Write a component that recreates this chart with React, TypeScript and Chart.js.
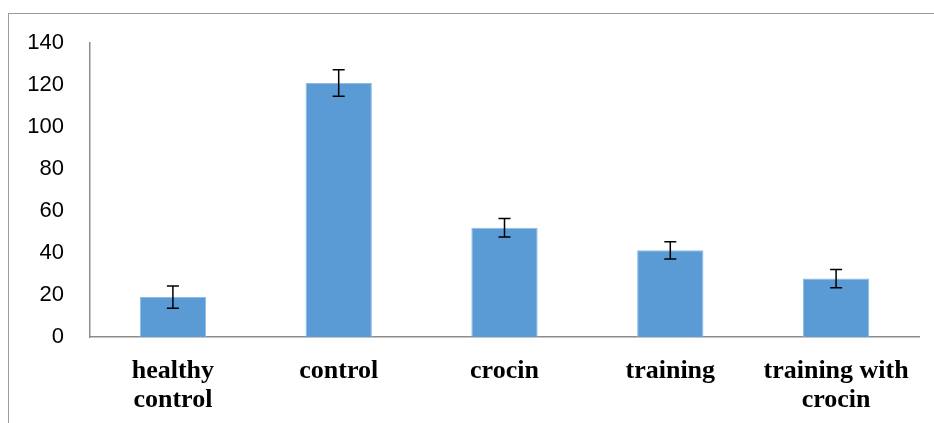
import React, { useEffect, useRef } from "react";
import { Chart, registerables } from "chart.js";

Chart.register(...registerables);

const categories: (string | string[])[] = [
  ["healthy", "control"],
  "control",
  "crocin",
  "training",
  ["training with", "crocin"],
];
const means: number[] = [19, 121, 52, 41.3, 27.8];
const errors: number[] = [5.3, 6.3, 4.4, 4.1, 4.3];
const yTicks: number[] = [0, 20, 40, 60, 80, 100, 120, 140];

const errorBarPlugin = {
  id: "errorBars",
  afterDatasetsDraw(chart: any) {
    const { ctx } = chart;
    const yScale = chart.scales.y;
    const meta = chart.getDatasetMeta(0);
    ctx.save();
    ctx.strokeStyle = "#000";
    ctx.lineWidth = 1.5;
    meta.data.forEach((bar: any, i: number) => {
      const x = bar.x;
      const yTop = yScale.getPixelForValue(means[i] + errors[i]);
      const yBot = yScale.getPixelForValue(means[i] - errors[i]);
      const cap = 6;
      ctx.beginPath();
      ctx.moveTo(x, yTop);
      ctx.lineTo(x, yBot);
      ctx.moveTo(x - cap, yTop);
      ctx.lineTo(x + cap, yTop);
      ctx.moveTo(x - cap, yBot);
      ctx.lineTo(x + cap, yBot);
      ctx.stroke();
    });
    ctx.restore();
  },
};

export default function App() {
  const canvasRef = useRef<HTMLCanvasElement | null>(null);

  useEffect(() => {
    if (!canvasRef.current) return;
    const chart = new Chart(canvasRef.current, {
      type: "bar",
      data: {
        labels: categories,
        datasets: [
          {
            data: means,
            backgroundColor: "#5B9BD5",
            borderColor: "#8DBCE6",
            borderWidth: 1,
            categoryPercentage: 1,
            barPercentage: 0.4,
          },
        ],
      },
      options: {
        animation: false,
        responsive: false,
        maintainAspectRatio: false,
        devicePixelRatio: 1,
        layout: { padding: { top: 43, right: 15, bottom: 0, left: 0 } },
        plugins: {
          legend: { display: false },
          tooltip: { enabled: false },
          title: { display: false },
        },
        scales: {
          x: {
            grid: { display: false, drawTicks: false },
            border: { display: true, color: "#8c8c8c", width: 1.5 },
            ticks: {
              color: "#000",
              padding: 20,
              maxRotation: 0,
              autoSkip: false,
              font: {
                family: "'Liberation Serif', 'Times New Roman', serif",
                size: 26,
                weight: "bold",
                lineHeight: 1.115,
              },
            },
            afterFit(scale: any) {
              scale.height = 86;
            },
          },
          y: {
            min: 0,
            max: 140,
            afterBuildTicks(scale: any) {
              scale.ticks = yTicks.map((v) => ({ value: v }));
            },
            grid: { display: false, drawTicks: false },
            border: { display: true, color: "#8c8c8c", width: 1.5 },
            ticks: {
              color: "#000",
              padding: 26,
              font: {
                family: "'Liberation Sans', Arial, sans-serif",
                size: 22,
              },
            },
            afterFit(scale: any) {
              scale.width = 90;
            },
          },
        },
      },
      plugins: [errorBarPlugin],
    });
    return () => chart.destroy();
  }, []);

  return (
    <div
      style={{
        position: "fixed",
        left: 0,
        top: 0,
        width: 934,
        height: 423,
        overflow: "hidden",
        background: "#fff",
      }}
    >
      <div
        style={{
          position: "absolute",
          left: 8,
          top: 13,
          width: 926,
          height: 410,
          borderLeft: "1px solid #9a9a9a",
          borderTop: "1px solid #9a9a9a",
          boxSizing: "border-box",
        }}
      />
      <canvas
        ref={canvasRef}
        width={934}
        height={423}
        style={{ position: "absolute", left: 0, top: 0, width: 934, height: 423 }}
      />
    </div>
  );
}
